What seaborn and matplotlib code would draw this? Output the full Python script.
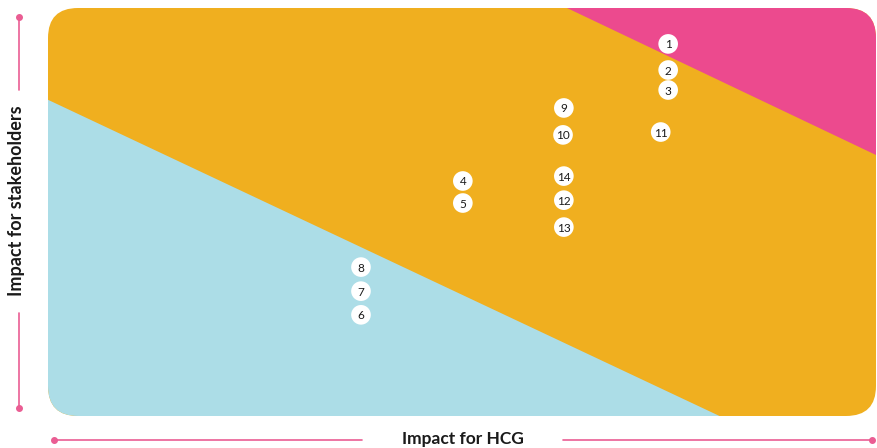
import numpy as np
import pandas as pd
import matplotlib
matplotlib.use("Agg")
import matplotlib.pyplot as plt
from matplotlib.patches import FancyBboxPatch
import seaborn as sns

# Topic ids and their position in the materiality matrix (0-100 scale)
topic_ids = [1, 2, 3, 9, 10, 11, 14, 12, 13, 4, 5, 8, 7, 6]
impact_hcg = [74.9, 74.9, 74.9, 62.3, 62.2, 74.0, 62.3, 62.3, 62.3, 50.1, 50.1, 37.8, 37.8, 37.8]
impact_stakeholders = [91.2, 84.8, 79.9, 75.5, 68.9, 69.6, 58.8, 52.9, 46.3, 57.6, 52.2, 36.5, 30.6, 24.8]

# Zone boundaries (corners of the coloured areas on the same 0-100 scale)
low_zone_x = [0, 0, 81.1]
low_zone_y = [0, 77.5, 0]
high_zone_x = [62.7, 100, 100]
high_zone_y = [100, 100, 64.0]

x_label = "Impact for HCG"
y_label = "Impact for stakeholders"

ORANGE = "#F0AF1F"
PINK = "#EC4A8E"
BLUE = "#ACDDE7"
LINE = "#EA5D93"
TEXT = "#1a1a1a"

sns.set_style("white")
plt.rcParams["font.family"] = ["Lato", "DejaVu Sans"]

df = pd.DataFrame({"id": topic_ids, "hcg": impact_hcg, "stake": impact_stakeholders})

fig = plt.figure(figsize=(8.77, 4.48), dpi=100)
W, H = 877, 448
ax = fig.add_axes([48 / W, (H - 416) / H, 828 / W, 408 / H])
ax.set_xlim(0, 100)
ax.set_ylim(0, 100)
ax.axis("off")

# rounded panel, orange middle zone
panel = FancyBboxPatch((0, 0), 1, 1, boxstyle=f"round,pad=0,rounding_size={30 / 828}",
                       mutation_aspect=828 / 408, transform=ax.transAxes,
                       facecolor=ORANGE, edgecolor="none", zorder=0)
ax.add_patch(panel)

low = ax.fill(low_zone_x, low_zone_y, color=BLUE, lw=0, zorder=1)[0]
high = ax.fill(high_zone_x, high_zone_y, color=PINK, lw=0, zorder=1)[0]
low.set_clip_path(panel)
high.set_clip_path(panel)

sns.scatterplot(data=df, x="hcg", y="stake", s=200, color="white", edgecolor="none",
                ax=ax, zorder=5, clip_on=False, legend=False)
for tid, x, y in zip(topic_ids, impact_hcg, impact_stakeholders):
    ax.text(x, y, str(tid), ha="center", va="center_baseline",
            fontsize=8.5, color=TEXT, zorder=6)

# axis titles with the pink guide lines
ov = fig.add_axes([0, 0, 1, 1], zorder=-1)
ov.set_xlim(0, W)
ov.set_ylim(H, 0)
ov.axis("off")

ov.text(17, 201, y_label, rotation=90, ha="center", va="center",
        fontsize=13, fontweight="bold", color=TEXT)
ov.plot([19, 19], [17, 90], color=LINE, lw=1.2)
ov.plot([19, 19], [313, 408], color=LINE, lw=1.2)
ov.plot([19, 19], [17, 408], "o", color=LINE, ms=4, ls="none")

ov.text(463, 439, x_label, ha="center", va="center",
        fontsize=12.5, fontweight="bold", color=TEXT)
ov.plot([54, 362], [440, 440], color=LINE, lw=1.2)
ov.plot([563, 872], [440, 440], color=LINE, lw=1.2)
ov.plot([54, 872], [440, 440], "o", color=LINE, ms=4, ls="none")

fig.savefig("out.png", dpi=100)
